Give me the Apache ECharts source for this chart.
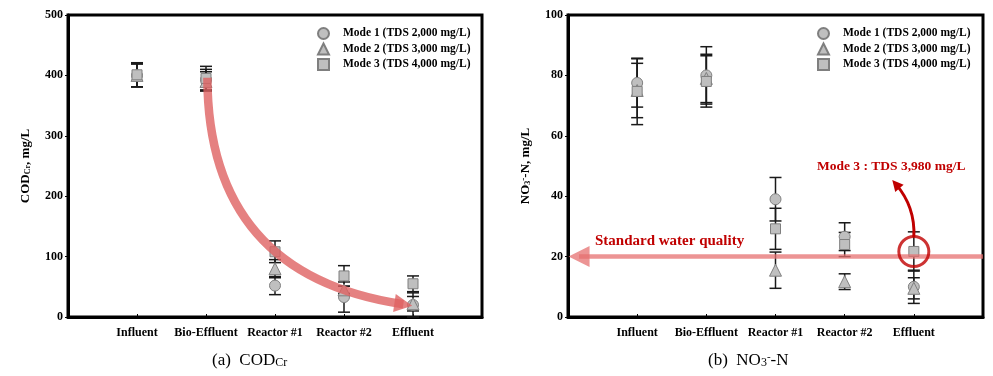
<!DOCTYPE html>
<html>
<head>
<meta charset="utf-8">
<script src="https://cdn.jsdelivr.net/npm/echarts/dist/echarts.min.js"></script>
<style>
  html, body { margin: 0; padding: 0; background: #fff; }
  #chart { width: 993px; height: 376px; }
</style>
</head>
<body>
<div id="chart"></div>
<script>
// categories along the treatment train
const categories = ["Influent", "Bio-Effluent", "Reactor #1", "Reactor #2", "Effluent"];
const modeNames = ["Mode 1 (TDS 2,000 mg/L)", "Mode 2 (TDS 3,000 mg/L)", "Mode 3 (TDS 4,000 mg/L)"];

// (a) COD_Cr, mg/L
const codMode1 = [400, 393, 52, 33, 20];
const codErr1 = [19, 17, 15, 25, 20];
const codMode2 = [400, 390, 80, 45, 22];
const codErr2 = [19, 16, 15, 6, 12];
const codMode3 = [401, 395, 108, 68, 55];
const codErr3 = [20, 20, 18, 17, 13];

// (b) NO3-N, mg/L
const no3Mode1 = [77.5, 80, 39, 26.6, 10];
const no3Err1 = [8, 9.5, 7.2, 4.6, 5.5];
const no3Mode2 = [75, 79, 15.5, 11.7, 9.5];
const no3Err2 = [9, 8, 6, 2.6, 3.5];
const no3Mode3 = [74.7, 78, 29.2, 24, 21.7];
const no3Err3 = [11, 8.5, 6.8, 4, 6.5];

const codTicks = [0, 100, 200, 300, 400, 500];
const no3Ticks = [0, 20, 40, 60, 80, 100];

// annotations (data space)
const codTrendArrow = [[2.02, 396], [4.86, 21]];
const no3Standard = 20;
const no3NoteArrow = [[5, 26.5], [4.74, 44]];

const serif = "'Liberation Serif', 'Times New Roman', serif";
const symbols = ["circle", "triangle", "rect"];
const symbolSizes = [11, 12, 10];

function points(vals) {
  return vals.map((v, i) => [i + 1, v]);
}
function bars(vals, errs) {
  return vals.map((v, i) => [i + 1, v - errs[i], v + errs[i]]);
}

function errorBar(params, api) {
  const x = api.value(0);
  const top = api.coord([x, api.value(2)]);
  const bot = api.coord([x, api.value(1)]);
  const w = 6;
  const style = { stroke: "#1a1a1a", lineWidth: 1.5 };
  return {
    type: "group",
    children: [
      { type: "line", shape: { x1: top[0], y1: top[1], x2: bot[0], y2: bot[1] }, style: style },
      { type: "line", shape: { x1: top[0] - w, y1: top[1], x2: top[0] + w, y2: top[1] }, style: style },
      { type: "line", shape: { x1: bot[0] - w, y1: bot[1], x2: bot[0] + w, y2: bot[1] }, style: style },
    ],
  };
}

function xAxisFor(gridIndex) {
  return {
    type: "value",
    gridIndex: gridIndex,
    min: 0,
    max: 6,
    interval: 1,
    splitLine: { show: false },
    axisLine: { lineStyle: { color: "#000", width: 3 } },
    axisTick: { inside: true, length: 3, lineStyle: { color: "#000" } },
    axisLabel: {
      margin: 10,
      color: "#000",
      fontFamily: serif,
      fontWeight: "bold",
      fontSize: 12,
      formatter: (v) => categories[v - 1] || "",
    },
  };
}

function yAxisFor(gridIndex, ticks, name, rich) {
  return {
    type: "value",
    gridIndex: gridIndex,
    min: ticks[0],
    max: ticks[ticks.length - 1],
    interval: ticks[1] - ticks[0],
    name: name,
    nameLocation: "middle",
    nameGap: 36,
    nameTextStyle: { color: "#000", fontFamily: serif, fontWeight: "bold", fontSize: 13, rich: rich },
    splitLine: { show: false },
    axisLine: { lineStyle: { color: "#000", width: 3 } },
    axisTick: { length: 3, lineStyle: { color: "#000" } },
    axisLabel: { margin: 5, color: "#000", fontFamily: serif, fontWeight: "bold", fontSize: 12 },
  };
}

const axisRich = {
  a: { fontFamily: serif, fontWeight: "bold", fontSize: 13, color: "#000" },
  sub: { fontFamily: serif, fontWeight: "bold", fontSize: 8, color: "#000", verticalAlign: "bottom" },
  sup: { fontFamily: serif, fontWeight: "bold", fontSize: 9, color: "#000", verticalAlign: "top" },
};
const capRich = {
  a: { fontFamily: serif, fontWeight: "normal", fontSize: 17, color: "#000" },
  sub: { fontFamily: serif, fontWeight: "normal", fontSize: 12, color: "#000", verticalAlign: "bottom" },
  sup: { fontFamily: serif, fontWeight: "normal", fontSize: 11, color: "#000", verticalAlign: "top" },
};

const groups = [
  { modes: [codMode1, codMode2, codMode3], errs: [codErr1, codErr2, codErr3] },
  { modes: [no3Mode1, no3Mode2, no3Mode3], errs: [no3Err1, no3Err2, no3Err3] },
];

let series = [];
groups.forEach((g, gi) => {
  g.modes.forEach((vals, mi) => {
    series.push({
      type: "custom",
      xAxisIndex: gi,
      yAxisIndex: gi,
      renderItem: errorBar,
      encode: { x: 0, y: [1, 2] },
      data: bars(vals, g.errs[mi]),
      z: 2,
      silent: true,
    });
  });
  g.modes.forEach((vals, mi) => {
    series.push({
      type: "scatter",
      name: modeNames[mi],
      xAxisIndex: gi,
      yAxisIndex: gi,
      symbol: symbols[mi],
      symbolSize: symbolSizes[mi],
      itemStyle: { color: "#bfbfbf", borderColor: "#7f7f7f", borderWidth: 1, opacity: 1 },
      data: points(vals),
      z: 3,
    });
  });
});

// COD decreasing trend arrow
series.push({
  type: "lines",
  coordinateSystem: "cartesian2d",
  xAxisIndex: 0,
  yAxisIndex: 0,
  symbol: ["none", "triangle"],
  symbolSize: 18,
  lineStyle: { color: "rgba(222,98,98,0.8)", width: 8.5, curveness: -0.43, opacity: 1 },
  data: [{ coords: codTrendArrow }],
  z: 4,
  silent: true,
});

// standard water quality line
series.push({
  type: "lines",
  coordinateSystem: "cartesian2d",
  xAxisIndex: 1,
  yAxisIndex: 1,
  symbol: ["none", "triangle"],
  symbolSize: 21,
  lineStyle: { color: "rgba(230,112,112,0.75)", width: 4.5, opacity: 1 },
  data: [{ coords: [[6, no3Standard], [0.16, no3Standard]] }],
  z: 4,
  silent: true,
});

// circle on Mode 3 effluent + curved arrow to the note
series.push({
  type: "scatter",
  xAxisIndex: 1,
  yAxisIndex: 1,
  symbol: "circle",
  symbolSize: 30,
  itemStyle: { color: "rgba(0,0,0,0)", borderColor: "#c00000", borderWidth: 3 },
  data: [[5, no3Mode3[4]]],
  z: 5,
  silent: true,
});
series.push({
  type: "lines",
  coordinateSystem: "cartesian2d",
  xAxisIndex: 1,
  yAxisIndex: 1,
  symbol: ["none", "triangle"],
  symbolSize: 11,
  lineStyle: { color: "#c00000", width: 3, curveness: -0.2, opacity: 1 },
  data: [{ coords: no3NoteArrow }],
  z: 5,
  silent: true,
});

const legendStyle = {
  orient: "vertical",
  top: 22,
  itemWidth: 11,
  itemHeight: 11,
  itemGap: 2.5,
  selectedMode: false,
  data: modeNames,
  formatter: (name) => "{t|" + name + "}",
  textStyle: {
    rich: {
      t: { color: "#000", fontFamily: serif, fontWeight: "bold", fontSize: 11.5, padding: [0, 0, 0, 9] },
    },
  },
};

const noteStyle = { color: "#c00000", fontFamily: serif, fontWeight: "bold" };

let option = {
  animation: false,
  grid: [
    { left: 68, top: 15, width: 414, height: 302, show: true, borderColor: "#000", borderWidth: 3 },
    { left: 568, top: 15, width: 415, height: 302, show: true, borderColor: "#000", borderWidth: 3 },
  ],
  legend: [
    Object.assign({ left: 312 }, legendStyle),
    Object.assign({ left: 812 }, legendStyle),
  ],
  title: [
    {
      text: "{a|(a)  COD}{sub|Cr}",
      left: 212,
      top: 352,
      padding: 0,
      textStyle: { fontWeight: "normal", rich: capRich },
    },
    {
      text: "{a|(b)  NO}{sub|3}{sup|-}{a|-N}",
      left: 708,
      top: 352,
      padding: 0,
      textStyle: { fontWeight: "normal", rich: capRich },
    },
    {
      text: "Standard water quality",
      left: 595,
      top: 234,
      padding: 0,
      textStyle: Object.assign({ fontSize: 15 }, noteStyle),
    },
    {
      text: "Mode 3 : TDS 3,980 mg/L",
      left: 817,
      top: 160,
      padding: 0,
      textStyle: Object.assign({ fontSize: 13.5 }, noteStyle),
    },
  ],
  xAxis: [xAxisFor(0), xAxisFor(1)],
  yAxis: [
    yAxisFor(0, codTicks, "{a|COD}{sub|Cr}{a|, mg/L}", axisRich),
    yAxisFor(1, no3Ticks, "{a|NO}{sub|3}{sup|-}{a|-N, mg/L}", axisRich),
  ],
  series: series,
};

var myChart = echarts.init(document.getElementById("chart"));
myChart.setOption(option);
</script>
</body>
</html>
